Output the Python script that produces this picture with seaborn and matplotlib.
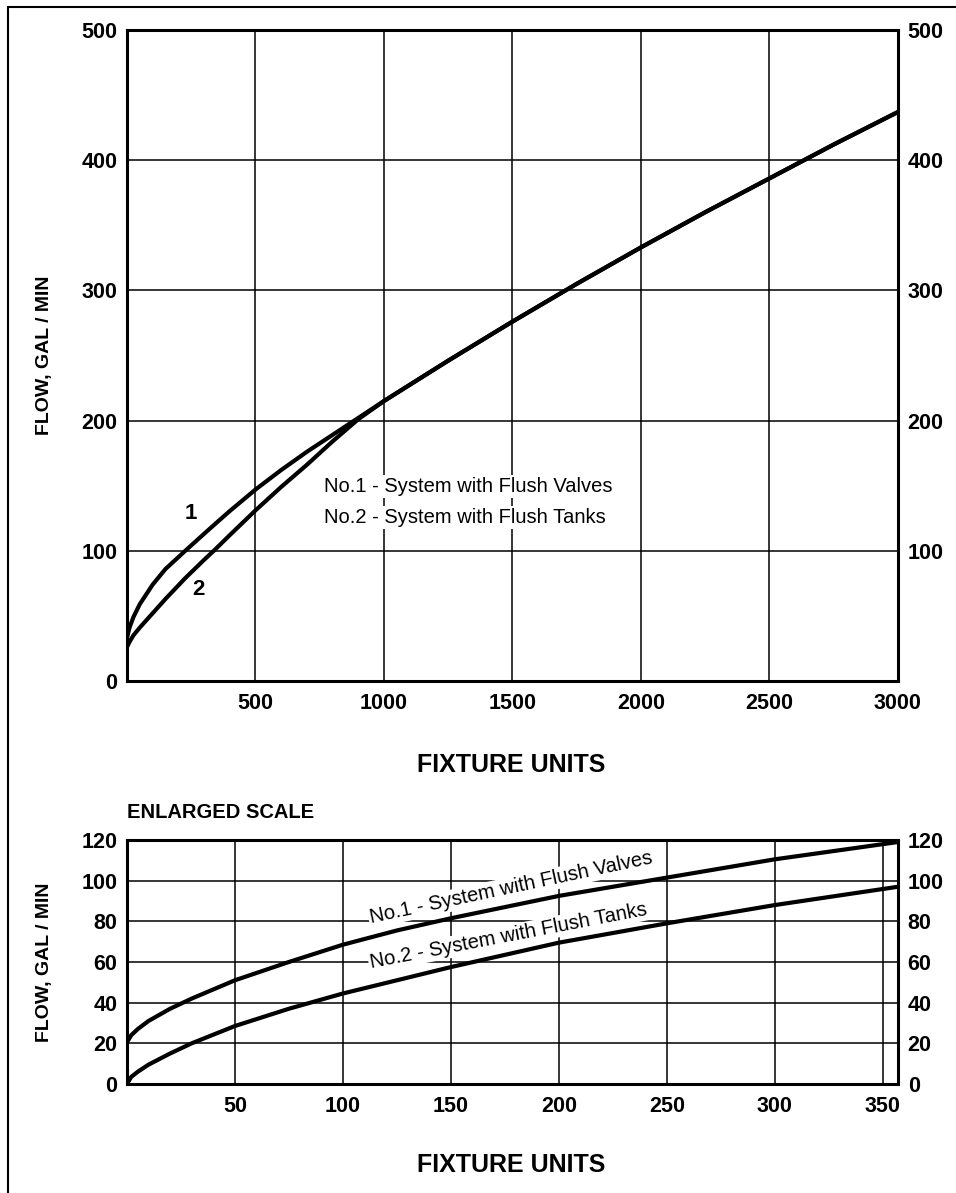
import pandas as pd
import matplotlib.pyplot as plt
import seaborn as sns
from matplotlib.lines import Line2D

# Valores
fu_top = [0, 10, 25, 50, 100, 150, 227, 300, 338, 400, 500, 600, 700, 800, 900, 1000,
          1250, 1500, 1750, 2000, 2250, 2500, 2750, 3000]
flow_valves_top = [33, 41, 49, 59, 74, 86, 100, 113, 119.7, 130.5, 147, 162, 176, 189, 202, 215,
                   246, 276, 305, 333, 360, 386, 412, 437]
flow_tanks_top = [26, 30, 35, 41, 52, 63, 79, 93, 100, 112, 131, 149, 166, 184, 201, 215,
                  246, 276, 305, 333, 360, 386, 412, 437]

fu_bottom = [0, 2, 5, 10, 20, 30, 50, 75, 100, 125, 150, 200, 250, 300, 357]
flow_valves_bottom = [20.5, 24, 27, 31, 37, 42, 51, 60, 68.5, 75.5, 81.5, 92.5, 101.5, 110.5, 119]
flow_tanks_bottom = [0, 3.5, 6, 9.5, 15, 20, 28.5, 37, 44.5, 51, 57.5, 69.5, 79, 88, 97]

top_xticks = [500, 1000, 1500, 2000, 2500, 3000]
top_yticks_left = [0, 100, 200, 300, 400, 500]
top_yticks_right = [100, 200, 300, 400, 500]
bottom_xticks = [50, 100, 150, 200, 250, 300, 350]
bottom_yticks = [0, 20, 40, 60, 80, 100, 120]

label_valves = "No.1 - System with Flush Valves"
label_tanks = "No.2 - System with Flush Tanks"

sns.set_style("white")
plt.rcParams['font.family'] = ['Liberation Sans', 'DejaVu Sans']
plt.rcParams['text.color'] = 'black'
plt.rcParams['xtick.color'] = 'black'
plt.rcParams['ytick.color'] = 'black'
plt.rcParams['axes.labelcolor'] = 'black'

fig = plt.figure(figsize=(9.56, 11.93), dpi=100)

TICK_FS = 15.5
spine_w = 2.2
grid_w = 1.1
curve_w = 3.0


def style_axes(ax, xticks, yticks, xlim, ylim):
    ax.set_xlim(*xlim)
    ax.set_ylim(*ylim)
    ax.set_xticks(xticks)
    ax.set_yticks(yticks)
    ax.set_xticklabels([str(t) for t in xticks], fontsize=TICK_FS, fontweight="bold")
    ax.set_yticklabels([str(t) for t in yticks], fontsize=TICK_FS, fontweight="bold")
    ax.tick_params(length=0, pad=7)
    ax.tick_params(axis="x", pad=9)
    for s in ax.spines.values():
        s.set_linewidth(spine_w)
        s.set_color("black")
        s.set_visible(True)
    ax.set_xlabel("")
    ax.set_ylabel("")


def right_labels(ax, yticks, ylim):
    axr = ax.twinx()
    axr.set_ylim(*ylim)
    axr.set_yticks(yticks)
    axr.set_yticklabels([str(t) for t in yticks], fontsize=TICK_FS, fontweight="bold")
    axr.tick_params(length=0, pad=7)
    for s in axr.spines.values():
        s.set_visible(False)
    return axr


# --- Grafica principal ---
ax1 = fig.add_axes([0.1328, 0.4292, 0.8065, 0.5457])
for xv in top_xticks[:-1]:
    ax1.axvline(xv, color="black", lw=grid_w, zorder=1)
for yv in top_yticks_left[1:-1]:
    ax1.axhline(yv, color="black", lw=grid_w, zorder=1)

df_top = pd.DataFrame({"fu": fu_top, "valves": flow_valves_top, "tanks": flow_tanks_top})
sns.lineplot(data=df_top, x="fu", y="valves", ax=ax1, color="black", lw=curve_w, sort=False, estimator=None, zorder=3)
sns.lineplot(data=df_top, x="fu", y="tanks", ax=ax1, color="black", lw=curve_w, sort=False, estimator=None, zorder=3)
style_axes(ax1, top_xticks, top_yticks_left, (0, 3000), (0, 500))
right_labels(ax1, top_yticks_right, (0, 500))

ax1.text(765, 145, label_valves, fontsize=14.5, ha="left", va="baseline", zorder=2,
         bbox=dict(facecolor="white", edgecolor="none", pad=1.5))
ax1.text(765, 121, label_tanks, fontsize=14.5, ha="left", va="baseline", zorder=2,
         bbox=dict(facecolor="white", edgecolor="none", pad=1.5))
ax1.text(247, 129, "1", fontsize=16, fontweight="bold", ha="center", va="center")
ax1.text(279, 70, "2", fontsize=16, fontweight="bold", ha="center", va="center")

fig.text(0.5345, 1 - 765 / 1193, "FIXTURE UNITS", fontsize=18, fontweight="bold", ha="center", va="center")
fig.text(45 / 956, 1 - 355 / 1193, "FLOW, GAL / MIN", fontsize=14, fontweight="bold", rotation=90, ha="center", va="center")

# --- Escala ampliada ---
ax2 = fig.add_axes([0.1328, 0.0914, 0.8065, 0.2045])
for xv in bottom_xticks:
    ax2.axvline(xv, color="black", lw=grid_w, zorder=1)
for yv in bottom_yticks[1:-1]:
    ax2.axhline(yv, color="black", lw=grid_w, zorder=1)

df_bot = pd.DataFrame({"fu": fu_bottom, "valves": flow_valves_bottom, "tanks": flow_tanks_bottom})
sns.lineplot(data=df_bot, x="fu", y="valves", ax=ax2, color="black", lw=curve_w, sort=False, estimator=None, zorder=3)
sns.lineplot(data=df_bot, x="fu", y="tanks", ax=ax2, color="black", lw=curve_w, sort=False, estimator=None, zorder=3)
style_axes(ax2, bottom_xticks, bottom_yticks, (0, 357), (0, 120))
right_labels(ax2, bottom_yticks, (0, 120))

ax2.text(113, 79, label_valves, fontsize=14.5, ha="left", va="baseline", rotation=12,
         rotation_mode="anchor", zorder=2, bbox=dict(facecolor="white", edgecolor="none", pad=1))
ax2.text(113, 57, label_tanks, fontsize=14.5, ha="left", va="baseline", rotation=10.9,
         rotation_mode="anchor", zorder=2, bbox=dict(facecolor="white", edgecolor="none", pad=1))

fig.text(127 / 956, 1 - 812 / 1193, "ENLARGED SCALE", fontsize=14.5, fontweight="bold", ha="left", va="center")
fig.text(0.5345, 1 - 1165 / 1193, "FIXTURE UNITS", fontsize=18, fontweight="bold", ha="center", va="center")
fig.text(45 / 956, 1 - 962 / 1193, "FLOW, GAL / MIN", fontsize=14, fontweight="bold", rotation=90, ha="center", va="center")

# Marco exterior
fig.add_artist(Line2D([8 / 956, 1.0], [1 - 7 / 1193, 1 - 7 / 1193], transform=fig.transFigure, color="black", lw=1.5))
fig.add_artist(Line2D([8 / 956, 8 / 956], [0.0, 1 - 7 / 1193], transform=fig.transFigure, color="black", lw=1.5))

plt.savefig("out.png", dpi=100)
plt.close()
